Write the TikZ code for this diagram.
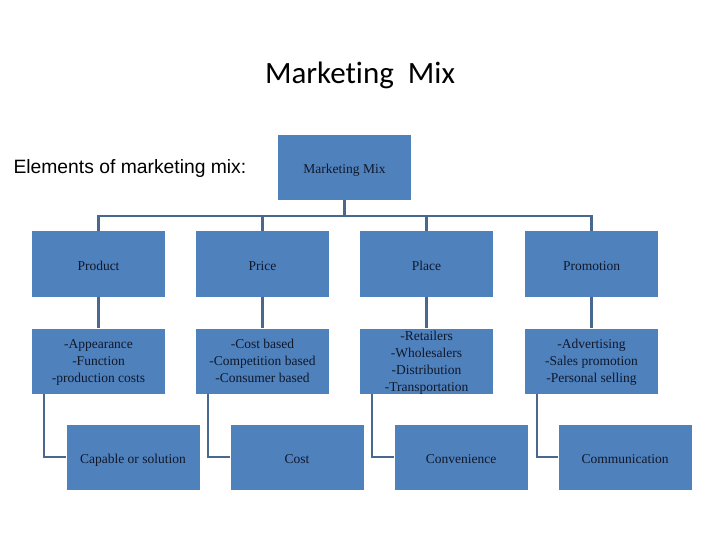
\documentclass[tikz,border=0pt]{standalone}
\usepackage{fontspec}
\setmainfont{Liberation Serif}
\newfontfamily\titlefont[Ligatures=NoCommon]{Carlito}
\newfontfamily\armfont{Liberation Sans}
\definecolor{boxblue}{HTML}{4F81BD}
\definecolor{linecol}{HTML}{48688F}
\definecolor{txtcol}{HTML}{10182A}
\begin{document}
\begin{tikzpicture}[x=1pt,y=-1pt,
  bx/.style={fill=boxblue,draw=none,minimum width=133pt,minimum height=65pt,inner sep=0pt},
  bt/.style={align=center,font=\fontsize{13.5}{17}\selectfont,text=txtcol,inner sep=0pt,yshift=-2.8pt,
    execute at begin node=\strut, execute at end node=\strut},
  conn/.style={draw=linecol,line width=2.2pt}]
\useasboundingbox (0,0) rectangle (720,540);
\node[font=\titlefont\fontsize{31}{36}\selectfont] (title) at (360,75) {Marketing\ \ Mix};
\node[font=\armfont\fontsize{19.3}{22}\selectfont,anchor=west] (elem) at (10,169) {Elements of marketing mix:};
\node[bx,label={[bt]center:Marketing Mix}] (mm) at (344.5,167.5) {};
% row 1
\node[bx,label={[bt]center:Product}] (p1) at (98.5,264) {};
\node[bx,label={[bt]center:Price}] (p2) at (262.5,264) {};
\node[bx,label={[bt]center:Place}] (p3) at (426.5,264) {};
\node[bx,label={[bt]center:Promotion}] (p4) at (591.5,264) {};
% row 2
\node[bx,label={[bt]center:{-Appearance\\-Function\\-production costs}}] (d1) at (98.5,361) {};
\node[bx,label={[bt]center:{-Cost based\\-Competition based\\-Consumer based}}] (d2) at (262.5,361) {};
\node[bx,label={[bt,font=\fontsize{13.5}{16.7}\selectfont]center:{-Retailers\\-Wholesalers\\-Distribution\\-Transportation}}] (d3) at (426.5,361) {};
\node[bx,label={[bt]center:{-Advertising\\-Sales promotion\\-Personal selling}}] (d4) at (591.5,361) {};
% row 3
\node[bx,label={[bt]center:Capable or solution}] (c1) at (133,457) {};
\node[bx,label={[bt]center:Cost}] (c2) at (297,457) {};
\node[bx,label={[bt]center:Convenience}] (c3) at (461,457) {};
\node[bx,label={[bt]center:Communication}] (c4) at (625,457) {};
% connectors
\coordinate (bus) at (344.5,216);
\draw[conn] (mm.south) -- (bus);
\draw[conn] (p1.north) |- (bus) -| (p4.north);
\draw[conn] (p2.north) -- (p2.north |- bus);
\draw[conn] (p3.north) -- (p3.north |- bus);
\foreach \i in {1,2,3,4}{
  \draw[conn] (p\i.south) -- (d\i.north);
  \draw[conn] ([xshift=12pt]d\i.south west) |- (c\i.west);
}
\end{tikzpicture}
\end{document}
